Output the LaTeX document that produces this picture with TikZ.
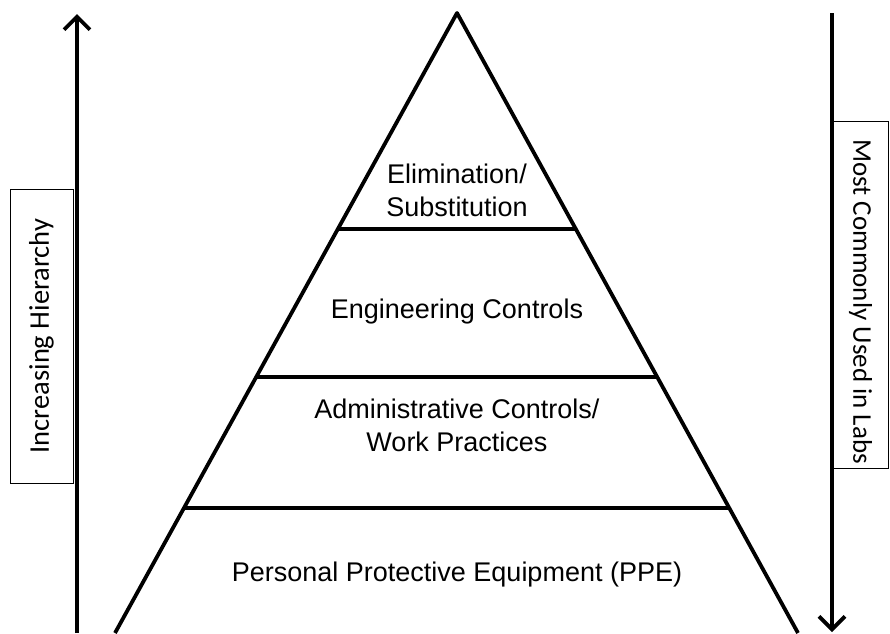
\documentclass[tikz,border=0pt]{standalone}
\usepackage{fontspec}
\setmainfont{Liberation Sans}
\newfontfamily\sidefont{Carlito}
\usetikzlibrary{arrows.meta, calc}

\begin{document}
\begin{tikzpicture}[x=1pt, y=-1pt,
    level/.style={font=\fontsize{27}{33}\selectfont, align=center},
    sidebox/.style={draw, line width=0.9pt, font=\sidefont\fontsize{28.5}{32}\selectfont, inner sep=0pt},
    bigarrow/.style={line width=3.8pt, -{Straight Barb[length=13pt, width=26pt, line width=3.8pt]}}]
    \useasboundingbox (0,0) rectangle (890,633);
    % Piramide
    \coordinate (apex) at (457,13);
    \coordinate (bl) at (115,633);
    \coordinate (br) at (798,633);
    \draw[line width=3.8pt, line join=round] (bl) -- (apex) -- (br);
    \draw[line width=3.8pt] ($(apex)!0.3484!(bl)$) -- ($(apex)!0.3484!(br)$);
    \draw[line width=3.8pt] ($(apex)!0.5871!(bl)$) -- ($(apex)!0.5871!(br)$);
    \draw[line width=3.8pt] ($(apex)!0.7984!(bl)$) -- ($(apex)!0.7984!(br)$);
    % Niveis
    \node[level] (elim) at (457,190) {Elimination/\\Substitution};
    \node[level] (eng) at (457,312) {Engineering Controls};
    \node[level] (admin) at (457,425) {Administrative Controls/\\Work Practices};
    \node[level] (ppe) at (457,575) {Personal Protective Equipment (PPE)};
    % Setas
    \coordinate (up0) at (77,633);
    \coordinate (up1) at (77,14);
    \draw[bigarrow] (up0) -- (up1);
    \coordinate (dn0) at (832,13);
    \coordinate (dn1) at (832,632);
    \draw[bigarrow] (dn0) -- (dn1);
    % Rotulos
    \node[sidebox, rotate=90, minimum width=294pt, minimum height=63pt] (hier) at (41.5,336) {Increasing Hierarchy};
    \node[sidebox, rotate=-90, minimum width=347pt, minimum height=55pt, font=\sidefont\fontsize{27}{32}\selectfont] (labs) at (860.5,294.5) {\hspace{14pt}Most Commonly Used in Labs};
\end{tikzpicture}
\end{document}
